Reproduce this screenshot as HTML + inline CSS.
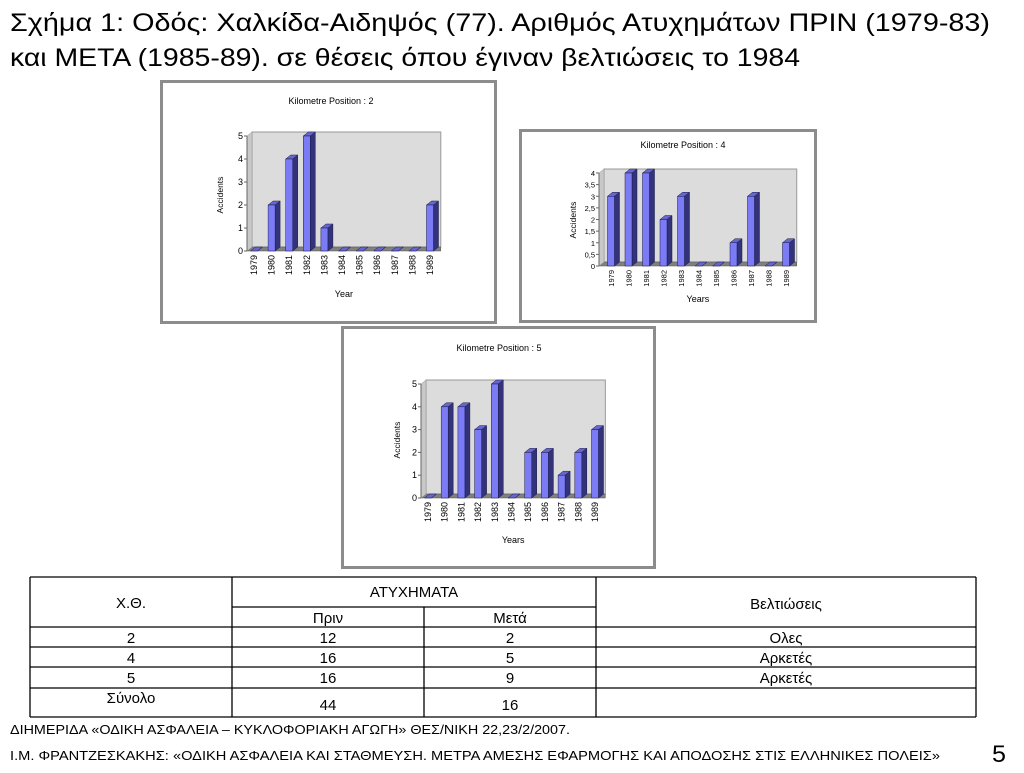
<!DOCTYPE html>
<html><head><meta charset="utf-8"><style>
body{margin:0;background:#fff;width:1024px;height:768px;overflow:hidden}
svg text{font-family:"Liberation Sans",sans-serif}
</style></head><body>
<svg id="root" width="1024" height="768" viewBox="0 0 1024 768" xmlns="http://www.w3.org/2000/svg">
<text x="10" y="31" font-size="25" textLength="980" lengthAdjust="spacingAndGlyphs">Σχήμα 1: Οδός: Χαλκίδα-Αιδηψός (77). Αριθμός Ατυχημάτων ΠΡΙΝ (1979-83)</text>
<text x="10" y="66" font-size="25" textLength="790" lengthAdjust="spacingAndGlyphs">και ΜΕΤΑ (1985-89). σε θέσεις όπου έγιναν βελτιώσεις το 1984</text>
<g id="charts"></g>
<g id="table"></g>
<text x="10" y="734" font-size="13" textLength="560" lengthAdjust="spacingAndGlyphs">ΔΙΗΜΕΡΙΔΑ «ΟΔΙΚΗ ΑΣΦΑΛΕΙΑ – ΚΥΚΛΟΦΟΡΙΑΚΗ ΑΓΩΓΗ» ΘΕΣ/ΝΙΚΗ 22,23/2/2007.</text>
<text x="10" y="760" font-size="13" textLength="930" lengthAdjust="spacingAndGlyphs">Ι.Μ. ΦΡΑΝΤΖΕΣΚΑΚΗΣ: «ΟΔΙΚΗ ΑΣΦΑΛΕΙΑ ΚΑΙ ΣΤΑΘΜΕΥΣΗ. ΜΕΤΡΑ ΑΜΕΣΗΣ ΕΦΑΡΜΟΓΗΣ ΚΑΙ ΑΠΟΔΟΣΗΣ ΣΤΙΣ ΕΛΛΗΝΙΚΕΣ ΠΟΛΕΙΣ»</text>
<text x="992" y="762" font-size="24" textLength="14" lengthAdjust="spacingAndGlyphs">5</text>
</svg>
<script>
const years = ["1979","1980","1981","1982","1983","1984","1985","1986","1987","1988","1989"];
const km2Values = [0,2,4,5,1,0,0,0,0,0,2];
const km4Values = [3,4,4,2,3,0,0,1,3,0,1];
const km5Values = [0,4,4,3,5,0,2,2,1,2,3];
const km2Ticks = [0,1,2,3,4,5];
const km4Ticks = [0,0.5,1,1.5,2,2.5,3,3.5,4];
const km5Ticks = [0,1,2,3,4,5];
const tableRows = [["2","12","2","Ολες"],["4","16","5","Αρκετές"],["5","16","9","Αρκετές"]];
const tableTotal = ["Σύνολο","44","16",""];

const NS="http://www.w3.org/2000/svg";
function mk(tag,attrs,parent,txt){const e=document.createElementNS(NS,tag);for(const k in attrs)e.setAttribute(k,attrs[k]);if(txt!==undefined)e.textContent=txt;parent.appendChild(e);return e;}

const charts=[
 {name:"km-2",title:"Kilometre Position : 2",xt:"Year",vals:km2Values,ticks:km2Ticks,fx:160,fy:80,fw:337,fh:244,ax:247,top:136,bot:251,c0:254,step:17.6,tx:331,ty:104,xty:297,ylx:223,yly:195,fs:10},
 {name:"km-4",title:"Kilometre Position : 4",xt:"Years",vals:km4Values,ticks:km4Ticks,fx:519,fy:129,fw:298,fh:194,ax:599,top:173,bot:266,c0:611,step:17.5,tx:683,ty:148,xty:302,ylx:576,yly:220,fs:8.5},
 {name:"km-5",title:"Kilometre Position : 5",xt:"Years",vals:km5Values,ticks:km5Ticks,fx:341,fy:326,fw:315,fh:243,ax:421,top:384,bot:498,c0:428,step:16.7,tx:499,ty:351,xty:543,ylx:400,yly:440,fs:10}
];
const root=document.getElementById('charts');
charts.forEach(c=>{
 const g=mk('g',{},root);
 
 
 const fr=mk('rect',{x:c.fx+1.5,y:c.fy+1.5,width:c.fw-3,height:c.fh-3,fill:'#fff',stroke:'#8c8c8c','stroke-width':3},g);
 
 
 const t=mk('text',{x:c.tx,y:c.ty,'font-size':9,'text-anchor':'middle'},g,c.title);
 
 
 const maxV=c.ticks[c.ticks.length-1];
 const dx=5,dy=4;
 const y=v=>c.bot-(v/maxV)*(c.bot-c.top);
 const right=c.c0+c.step*(years.length-1)+c.step/2+2;
 // back wall
 const wall=mk('rect',{x:c.ax+dx,y:c.top-dy,width:right-c.ax-dx,height:c.bot-c.top,fill:'#dcdcdc',stroke:'#999','stroke-width':1},g);
 
 
 // floor
 const fl=mk('polygon',{points:`${c.ax},${c.bot} ${c.ax+dx},${c.bot-dy} ${right+dx-5},${c.bot-dy} ${right},${c.bot}`,fill:'#808080',stroke:'#555','stroke-width':0.5},g);
 
 
 // side wall
 mk('polygon',{points:`${c.ax},${c.top} ${c.ax+dx},${c.top-dy} ${c.ax+dx},${c.bot-dy} ${c.ax},${c.bot}`,fill:'#c8c8c8',stroke:'#999','stroke-width':0.5},g);
 mk('line',{x1:c.ax,y1:c.top,x2:c.ax,y2:c.bot,stroke:'#666'},g);
 c.ticks.forEach(tv=>{
  const ty=y(tv);
  mk('line',{x1:c.ax-3,y1:ty,x2:c.ax,y2:ty,stroke:'#666'},g);
  const lb=mk('text',{x:c.ax-4,y:ty+3,'font-size':c.fs-1,'text-anchor':'end'},g,String(tv).replace('.',','));
  
  
 });
 const yl=mk('text',{x:c.ylx,y:c.yly,'font-size':8.5,'text-anchor':'middle',transform:`rotate(-90 ${c.ylx} ${c.yly})`},g,'Accidents');
 
 
 const bw=7;
 c.vals.forEach((v,i)=>{
  const cx=c.c0+c.step*i, x0=cx-bw/2, yt=y(v);
  const b=mk('g',{},g);
  
  
  mk('polygon',{points:`${x0+bw},${c.bot} ${x0+bw},${yt} ${x0+bw+dx},${yt-dy} ${x0+bw+dx},${c.bot-dy}`,fill:'#33337a',stroke:'#1a1a4d','stroke-width':0.5},b);
  mk('polygon',{points:`${x0},${yt} ${x0+dx},${yt-dy} ${x0+bw+dx},${yt-dy} ${x0+bw},${yt}`,fill:'#6666cc',stroke:'#1a1a4d','stroke-width':0.5},b);
  if(v>0) mk('rect',{x:x0,y:yt,width:bw,height:c.bot-yt,fill:'#7b7bf5',stroke:'#1a1a4d','stroke-width':0.5},b);
  const ly=c.bot+4, lx=cx+3;
  const lb=mk('text',{x:lx,y:ly,'font-size':c.fs-1,'text-anchor':'end',transform:`rotate(-90 ${lx} ${ly})`},g,years[i]);
  
  
 });
 const xt=mk('text',{x:(c.ax+right)/2,y:c.xty,'font-size':9,'text-anchor':'middle'},g,c.xt);
 
 
});
// table
const tg=document.getElementById('table');
const cols=[30,232,424,596,976];
const rowsY=[577,607,627,647,667,688,717];
function ln(x1,y1,x2,y2){mk('line',{x1,y1,x2,y2,stroke:'#000','stroke-width':1.3},tg);}
ln(30,577,976,577);ln(30,717,976,717);ln(30,577,30,717);ln(976,577,976,717);
ln(232,577,232,717);ln(596,577,596,717);ln(424,607,424,717);
ln(232,607,596,607);
for(let r=2;r<6;r++)ln(30,rowsY[r],976,rowsY[r]);
function cell(x,yy,s,name){const e=mk('text',{x,y:yy,'font-size':15,'text-anchor':'middle'},tg,s);}
cell(131,608,'Χ.Θ.','header-xth');cell(414,597,'ΑΤΥΧΗΜΑΤΑ','header-accidents');cell(786,609,'Βελτιώσεις','header-improvements');
cell(328,623,'Πριν','header-before');cell(510,623,'Μετά','header-after');
tableRows.forEach((r,i)=>{const yy=rowsY[i+2]+16;[131,328,510,786].forEach((x,j)=>cell(x,yy,r[j],'cell-r'+i+'-c'+j));});
cell(131,703,tableTotal[0],'total-label');cell(328,710,tableTotal[1],'total-before');cell(510,710,tableTotal[2],'total-after');
</script>
</body></html>
